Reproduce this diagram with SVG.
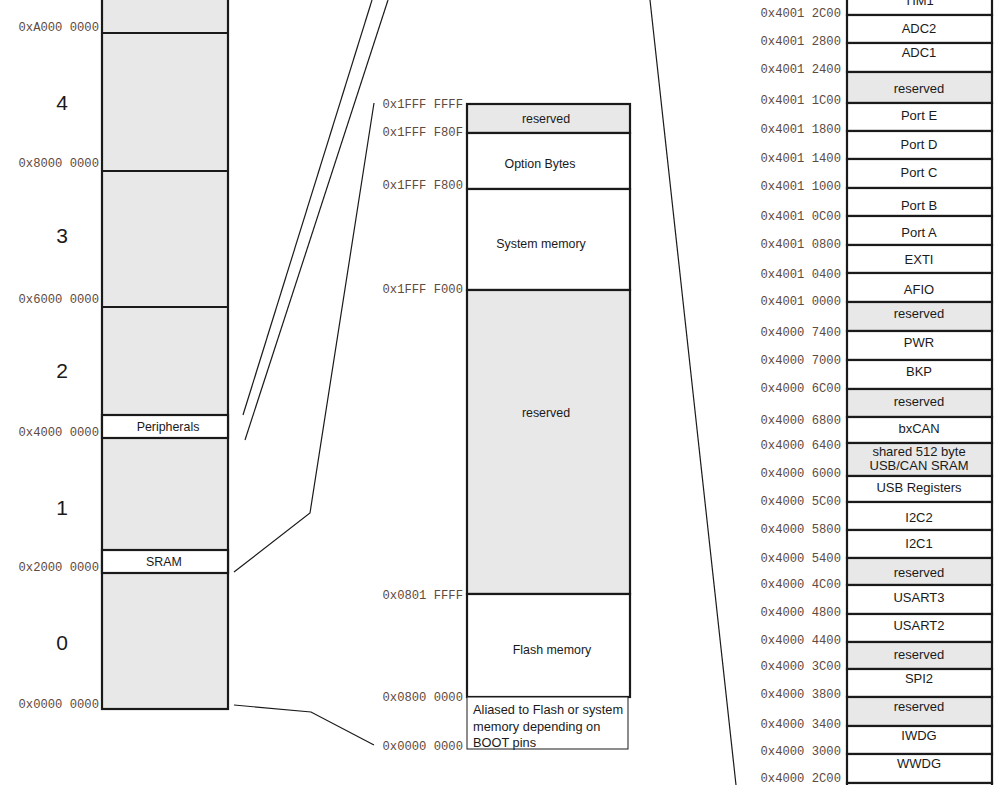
<svg xmlns="http://www.w3.org/2000/svg" width="1008" height="785" viewBox="0 0 1008 785">
<style>
.bg{fill:#ffffff}
.g{fill:#e8e8e8;stroke:#1a1a1a;stroke-width:2.2}
.w{fill:#ffffff;stroke:#1a1a1a;stroke-width:2.2}
.thin{fill:#ffffff;stroke:#1a1a1a;stroke-width:1}
.sep{stroke:#1a1a1a;stroke-width:2.2}
.con{fill:none;stroke:#1a1a1a;stroke-width:1.2}
.addr{font-family:"Liberation Mono",monospace;font-size:12.2px;fill:#5e4a40}
.lbl{font-family:"Liberation Sans",Arial,sans-serif;font-size:12.4px;fill:#1a1a1a;text-anchor:middle}
.rl{font-size:13px}
.lft{font-family:"Liberation Sans",Arial,sans-serif;font-size:12.8px;fill:#1a1a1a}
.num{font-family:"Liberation Sans",Arial,sans-serif;font-size:21px;fill:#1a1a1a;text-anchor:middle}
</style>
<rect class="bg" x="0" y="0" width="1008" height="785"/>

<g id="connectors">
<line class="con" x1="372" y1="0" x2="243" y2="415"/>
<line class="con" x1="388" y1="0" x2="245" y2="440"/>
<polyline class="con" points="234,572 310,513 374,103"/>
<polyline class="con" points="234,705 311,712 374,745"/>
<line class="con" x1="650" y1="0" x2="736" y2="785"/>
</g>

<g id="left-map">
<rect class="g" x="102" y="-5" width="126" height="714"/>
<line class="sep" x1="102" y1="33" x2="228" y2="33"/>
<line class="sep" x1="102" y1="171" x2="228" y2="171"/>
<line class="sep" x1="102" y1="307" x2="228" y2="307"/>
<g id="peripherals"><rect class="w" x="102" y="415" width="126" height="23"/><text class="lbl" x="168" y="430.5">Peripherals</text></g>
<g id="sram"><rect class="w" x="102" y="550" width="126" height="23"/><text class="lbl" x="164" y="566">SRAM</text></g>
<text class="num" x="62" y="110">4</text>
<text class="num" x="62" y="243">3</text>
<text class="num" x="62" y="378">2</text>
<text class="num" x="62" y="515">1</text>
<text class="num" x="62" y="650">0</text>
<g class="addr" text-anchor="end">
<text x="99" y="31">0xA000 0000</text>
<text x="99" y="167">0x8000 0000</text>
<text x="99" y="303">0x6000 0000</text>
<text x="99" y="436">0x4000 0000</text>
<text x="99" y="571">0x2000 0000</text>
<text x="99" y="708">0x0000 0000</text>
</g>
</g>

<g id="middle-map">
<g id="m-reserved-top"><rect class="g" x="467" y="104" width="163" height="29"/><text class="lbl" x="546" y="123">reserved</text></g>
<g id="option-bytes"><rect class="w" x="467" y="133" width="163" height="56"/><text class="lbl" x="540" y="168">Option Bytes</text></g>
<g id="system-memory"><rect class="w" x="467" y="189" width="163" height="101"/><text class="lbl" x="541" y="248">System memory</text></g>
<g id="m-reserved"><rect class="g" x="467" y="290" width="163" height="304"/><text class="lbl" x="546" y="417">reserved</text></g>
<g id="flash-memory"><rect class="w" x="467" y="594" width="163" height="103"/><text class="lbl" x="552" y="654">Flash memory</text></g>
<g id="aliased"><rect class="thin" x="467" y="697" width="161" height="52"/>
<text class="lft" x="473" y="714">Aliased to Flash or system</text>
<text class="lft" x="473" y="730.5">memory depending on</text>
<text class="lft" x="473" y="747">BOOT pins</text></g>
<g class="addr" text-anchor="end">
<text x="463" y="108">0x1FFF FFFF</text>
<text x="463" y="136">0x1FFF F80F</text>
<text x="463" y="189">0x1FFF F800</text>
<text x="463" y="293">0x1FFF F000</text>
<text x="463" y="599">0x0801 FFFF</text>
<text x="463" y="701">0x0800 0000</text>
<text x="463" y="750">0x0000 0000</text>
</g>
</g>

<g id="right-map">
<g id="tim1"><rect class="w" x="847" y="-5" width="145" height="20"/><text class="lbl rl" x="919" y="5">TIM1</text></g>
<g id="adc2"><rect class="w" x="847" y="15" width="145" height="28"/><text class="lbl rl" x="919" y="33">ADC2</text></g>
<g id="adc1"><rect class="w" x="847" y="43" width="145" height="29"/><text class="lbl rl" x="919" y="57">ADC1</text></g>
<g id="r-res1"><rect class="g" x="847" y="72" width="145" height="31"/><text class="lbl rl" x="919" y="93">reserved</text></g>
<g id="porte"><rect class="w" x="847" y="103" width="145" height="28"/><text class="lbl rl" x="919" y="120">Port E</text></g>
<g id="portd"><rect class="w" x="847" y="131" width="145" height="28"/><text class="lbl rl" x="919" y="149">Port D</text></g>
<g id="portc"><rect class="w" x="847" y="159" width="145" height="29"/><text class="lbl rl" x="919" y="177">Port C</text></g>
<g id="portb"><rect class="w" x="847" y="188" width="145" height="28"/><text class="lbl rl" x="919" y="210">Port B</text></g>
<g id="porta"><rect class="w" x="847" y="216" width="145" height="29"/><text class="lbl rl" x="919" y="237">Port A</text></g>
<g id="exti"><rect class="w" x="847" y="245" width="145" height="28"/><text class="lbl rl" x="919" y="264">EXTI</text></g>
<g id="afio"><rect class="w" x="847" y="273" width="145" height="29"/><text class="lbl rl" x="919" y="294">AFIO</text></g>
<g id="r-res2"><rect class="g" x="847" y="302" width="145" height="29"/><text class="lbl rl" x="919" y="318">reserved</text></g>
<g id="pwr"><rect class="w" x="847" y="331" width="145" height="29"/><text class="lbl rl" x="919" y="347">PWR</text></g>
<g id="bkp"><rect class="w" x="847" y="360" width="145" height="29"/><text class="lbl rl" x="919" y="376">BKP</text></g>
<g id="r-res3"><rect class="g" x="847" y="389" width="145" height="28"/><text class="lbl rl" x="919" y="406">reserved</text></g>
<g id="bxcan"><rect class="w" x="847" y="417" width="145" height="26"/><text class="lbl rl" x="919" y="433">bxCAN</text></g>
<g id="shared-sram"><rect class="g" x="847" y="443" width="145" height="33"/><text class="lbl rl" x="919" y="455.5">shared 512 byte</text><text class="lbl rl" x="919" y="469.5">USB/CAN SRAM</text></g>
<g id="usb-registers"><rect class="w" x="847" y="476" width="145" height="26"/><text class="lbl rl" x="919" y="492">USB Registers</text></g>
<g id="i2c2"><rect class="w" x="847" y="502" width="145" height="28"/><text class="lbl rl" x="919" y="522">I2C2</text></g>
<g id="i2c1"><rect class="w" x="847" y="530" width="145" height="28"/><text class="lbl rl" x="919" y="548">I2C1</text></g>
<g id="r-res4"><rect class="g" x="847" y="558" width="145" height="27"/><text class="lbl rl" x="919" y="577">reserved</text></g>
<g id="usart3"><rect class="w" x="847" y="585" width="145" height="29"/><text class="lbl rl" x="919" y="602">USART3</text></g>
<g id="usart2"><rect class="w" x="847" y="614" width="145" height="28"/><text class="lbl rl" x="919" y="630">USART2</text></g>
<g id="r-res5"><rect class="g" x="847" y="642" width="145" height="27"/><text class="lbl rl" x="919" y="659">reserved</text></g>
<g id="spi2"><rect class="w" x="847" y="669" width="145" height="28"/><text class="lbl rl" x="919" y="683">SPI2</text></g>
<g id="r-res6"><rect class="g" x="847" y="697" width="145" height="29"/><text class="lbl rl" x="919" y="711">reserved</text></g>
<g id="iwdg"><rect class="w" x="847" y="726" width="145" height="28"/><text class="lbl rl" x="919" y="740">IWDG</text></g>
<g id="wwdg"><rect class="w" x="847" y="754" width="145" height="29"/><text class="lbl rl" x="919" y="768">WWDG</text></g>
<g id="next-row"><rect class="w" x="847" y="783" width="145" height="20"/></g>
<g class="addr" text-anchor="end">
<text x="841" y="17">0x4001 2C00</text>
<text x="841" y="45">0x4001 2800</text>
<text x="841" y="73">0x4001 2400</text>
<text x="841" y="104">0x4001 1C00</text>
<text x="841" y="133">0x4001 1800</text>
<text x="841" y="162">0x4001 1400</text>
<text x="841" y="190">0x4001 1000</text>
<text x="841" y="220">0x4001 0C00</text>
<text x="841" y="248">0x4001 0800</text>
<text x="841" y="278">0x4001 0400</text>
<text x="841" y="305">0x4001 0000</text>
<text x="841" y="336">0x4000 7400</text>
<text x="841" y="364">0x4000 7000</text>
<text x="841" y="392">0x4000 6C00</text>
<text x="841" y="424">0x4000 6800</text>
<text x="841" y="449">0x4000 6400</text>
<text x="841" y="477">0x4000 6000</text>
<text x="841" y="505">0x4000 5C00</text>
<text x="841" y="533">0x4000 5800</text>
<text x="841" y="562">0x4000 5400</text>
<text x="841" y="588">0x4000 4C00</text>
<text x="841" y="616">0x4000 4800</text>
<text x="841" y="644">0x4000 4400</text>
<text x="841" y="670">0x4000 3C00</text>
<text x="841" y="698">0x4000 3800</text>
<text x="841" y="728">0x4000 3400</text>
<text x="841" y="755">0x4000 3000</text>
<text x="841" y="782">0x4000 2C00</text>
</g>
</g>
</svg>
